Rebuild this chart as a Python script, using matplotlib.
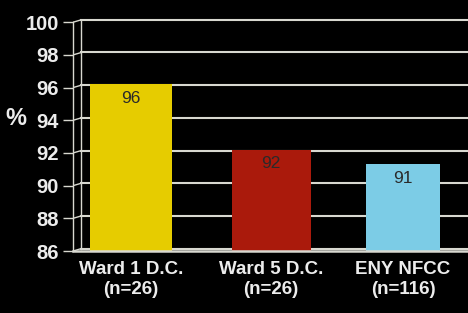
import matplotlib
matplotlib.use("Agg")
import matplotlib.pyplot as plt

categorias = ["Ward 1 D.C.\n(n=26)", "Ward 5 D.C.\n(n=26)", "ENY NFCC\n(n=116)"]
valores = [96.2, 92.2, 91.3]
etiquetas = ["96", "92", "91"]
colores = ["#e6cc00", "#aa1a0c", "#7ccce6"]
ticks_y = [86, 88, 90, 92, 94, 96, 98, 100]

fuente = ["Liberation Sans", "DejaVu Sans"]
gris = "#d8d8d0"

fig = plt.figure(figsize=(4.68, 3.13), dpi=100, facecolor="black")
ax = fig.add_axes([0.156, 0.198, 0.844, 0.744], facecolor="black")

ax.set_ylim(86, 100.25)
ax.set_xlim(-0.4265, 2.478)

# lineas de grilla (pared del fondo, corrida un poco a la derecha)
for y in ticks_y:
    ax.plot([-0.365, 2.478], [y + 0.15, y + 0.15], color=gris, lw=1.5, zorder=1)
    ax.plot([-0.4265, -0.365], [y, y + 0.15], color=gris, lw=1.0, zorder=1)
ax.plot([-0.365, -0.365], [86.15, 100.15], color=gris, lw=1.0, zorder=1)

posiciones = [0, 1.03, 2.0]
anchos = [0.61, 0.58, 0.55]
ax.bar(posiciones, [v - 86 for v in valores], bottom=86, width=anchos,
       color=colores, zorder=2)

for i, v in enumerate(valores):
    ax.text(posiciones[i], v - 0.4, etiquetas[i], ha="center", va="top",
            color="#2a2a2a", fontsize=12.5, family=fuente, zorder=3)

ax.set_xticks(posiciones)
ax.set_xticklabels(categorias, color="#ececec", fontsize=13.5, fontweight="bold",
                   family=fuente, linespacing=1.25)
ax.set_yticks(ticks_y)
ax.set_yticklabels([str(t) for t in ticks_y], color="#ececec", fontsize=14.5,
                   fontweight="bold", family=fuente)
ax.tick_params(axis="x", length=0, pad=7)
ax.tick_params(axis="y", length=7, width=1.0, color=gris, pad=3)

for s in ["top", "right"]:
    ax.spines[s].set_visible(False)
ax.spines["left"].set_color(gris)
ax.spines["left"].set_linewidth(1.0)
ax.spines["left"].set_bounds(86, 100)
ax.spines["bottom"].set_color(gris)
ax.spines["bottom"].set_linewidth(1.8)

fig.text(0.034, 0.62, "%", color="#ececec", fontsize=17, fontweight="bold",
         family=fuente, ha="center", va="center")

fig.savefig("out.png", dpi=100, facecolor="black")
